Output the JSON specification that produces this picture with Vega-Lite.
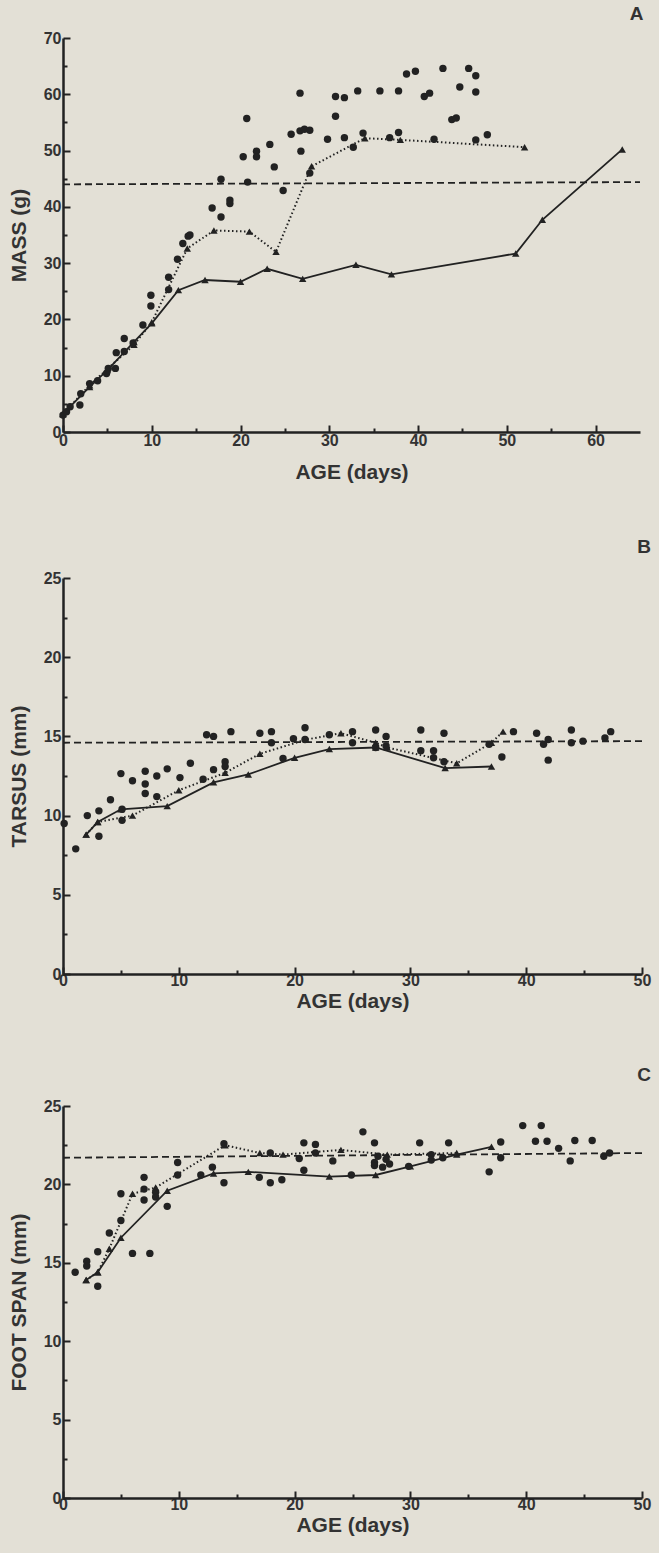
{
  "$schema": "https://vega.github.io/schema/vega-lite/v6.json",
  "background": "#e3e0d6",
  "padding": {"left": 8, "top": 5, "right": 8, "bottom": 18},
  "config": {
    "view": {"stroke": null},
    "axis": {"domainColor": "#222", "domainWidth": 2.5, "tickColor": "#222", "tickWidth": 2, "labelFont": "Liberation Sans", "labelFontWeight": "bold", "labelFontSize": 16, "labelColor": "#333", "labelFlush": false, "titleFont": "Liberation Sans", "titleFontWeight": "bold", "titleFontSize": 21, "titleColor": "#333", "grid": false},
    "title": {"font": "Liberation Sans", "fontWeight": "bold", "fontSize": 19, "color": "#333", "anchor": "end", "offset": 13}
  },
  "datasets": {
    "A": [
      {"series":"solid","age":0,"value":3.2},{"series":"solid","age":3,"value":8.0},{"series":"solid","age":5,"value":11},{"series":"solid","age":8,"value":16},{"series":"solid","age":10,"value":19.3},{"series":"solid","age":13,"value":25.2},{"series":"solid","age":16,"value":27.0},{"series":"solid","age":20,"value":26.7},{"series":"solid","age":23,"value":29.0},{"series":"solid","age":27,"value":27.2},{"series":"solid","age":33,"value":29.7},{"series":"solid","age":37,"value":28.0},{"series":"solid","age":51,"value":31.7},{"series":"solid","age":54,"value":37.7},{"series":"solid","age":63,"value":50.2},
      {"series":"dotted","age":0,"value":3.2},{"series":"dotted","age":3,"value":8.3},{"series":"dotted","age":5,"value":11.2},{"series":"dotted","age":8,"value":15.5},{"series":"dotted","age":10,"value":19.5},{"series":"dotted","age":14,"value":32.6},{"series":"dotted","age":17,"value":35.8},{"series":"dotted","age":21,"value":35.6},{"series":"dotted","age":24,"value":32.0},{"series":"dotted","age":28,"value":47.2},{"series":"dotted","age":34,"value":52.2},{"series":"dotted","age":38,"value":51.9},{"series":"dotted","age":52,"value":50.6},
      {"series":"mean","age":0,"value":44.0},{"series":"mean","age":65,"value":44.4},
      {"series":"obs","age":0,"value":3.0},{"series":"obs","age":0.4,"value":3.6},{"series":"obs","age":0.8,"value":4.5},{"series":"obs","age":1.9,"value":4.8},{"series":"obs","age":2.0,"value":6.8},{"series":"obs","age":3.0,"value":8.6},{"series":"obs","age":3.9,"value":9.1},{"series":"obs","age":4.9,"value":10.4},{"series":"obs","age":5.1,"value":11.3},{"series":"obs","age":5.9,"value":11.3},{"series":"obs","age":6.0,"value":14.1},{"series":"obs","age":6.9,"value":14.3},{"series":"obs","age":6.9,"value":16.6},{"series":"obs","age":7.9,"value":15.8},{"series":"obs","age":9.0,"value":19.0},{"series":"obs","age":9.9,"value":22.4},{"series":"obs","age":9.9,"value":24.3},{"series":"obs","age":11.9,"value":25.3},{"series":"obs","age":11.9,"value":27.5},{"series":"obs","age":12.9,"value":30.7},{"series":"obs","age":13.5,"value":33.5},{"series":"obs","age":14.1,"value":34.8},{"series":"obs","age":14.3,"value":35.0},{"series":"obs","age":16.8,"value":39.8},{"series":"obs","age":17.8,"value":38.2},{"series":"obs","age":18.8,"value":41.2},{"series":"obs","age":18.8,"value":40.6},{"series":"obs","age":17.8,"value":44.9},{"series":"obs","age":20.8,"value":44.4},{"series":"obs","age":20.3,"value":48.9},{"series":"obs","age":20.7,"value":55.7},{"series":"obs","age":21.8,"value":49.9},{"series":"obs","age":21.8,"value":48.9},{"series":"obs","age":23.3,"value":51.1},{"series":"obs","age":23.8,"value":47.1},{"series":"obs","age":24.8,"value":42.9},{"series":"obs","age":25.7,"value":52.9},{"series":"obs","age":26.7,"value":53.5},{"series":"obs","age":27.2,"value":53.8},{"series":"obs","age":27.8,"value":53.6},{"series":"obs","age":26.8,"value":49.9},{"series":"obs","age":26.7,"value":60.2},{"series":"obs","age":27.8,"value":46.0},{"series":"obs","age":29.8,"value":52.0},{"series":"obs","age":30.7,"value":56.1},{"series":"obs","age":30.7,"value":59.6},{"series":"obs","age":31.7,"value":59.4},{"series":"obs","age":31.7,"value":52.3},{"series":"obs","age":32.7,"value":50.6},{"series":"obs","age":33.2,"value":60.6},{"series":"obs","age":33.8,"value":53.1},{"series":"obs","age":35.7,"value":60.6},{"series":"obs","age":36.8,"value":52.3},{"series":"obs","age":37.8,"value":60.6},{"series":"obs","age":37.8,"value":53.2},{"series":"obs","age":38.7,"value":63.6},{"series":"obs","age":39.7,"value":64.1},{"series":"obs","age":40.7,"value":59.6},{"series":"obs","age":41.3,"value":60.2},{"series":"obs","age":41.8,"value":52.0},{"series":"obs","age":42.8,"value":64.6},{"series":"obs","age":43.8,"value":55.5},{"series":"obs","age":44.3,"value":55.8},{"series":"obs","age":44.7,"value":61.3},{"series":"obs","age":45.7,"value":64.6},{"series":"obs","age":46.5,"value":60.4},{"series":"obs","age":46.5,"value":63.3},{"series":"obs","age":46.5,"value":51.9},{"series":"obs","age":47.8,"value":52.8}
    ],
    "B": [
      {"series":"solid","age":2,"value":8.8},{"series":"solid","age":3,"value":9.6},{"series":"solid","age":5,"value":10.4},{"series":"solid","age":9,"value":10.6},{"series":"solid","age":13,"value":12.1},{"series":"solid","age":16,"value":12.6},{"series":"solid","age":20,"value":13.65},{"series":"solid","age":23,"value":14.2},{"series":"solid","age":27,"value":14.3},{"series":"solid","age":33,"value":13.0},{"series":"solid","age":37,"value":13.1},
      {"series":"dotted","age":2,"value":8.8},{"series":"dotted","age":3,"value":9.6},{"series":"dotted","age":6,"value":10.0},{"series":"dotted","age":10,"value":11.6},{"series":"dotted","age":14,"value":12.7},{"series":"dotted","age":17,"value":13.9},{"series":"dotted","age":21,"value":14.8},{"series":"dotted","age":24,"value":15.2},{"series":"dotted","age":27,"value":14.6},{"series":"dotted","age":28,"value":14.3},{"series":"dotted","age":34,"value":13.3},{"series":"dotted","age":37,"value":14.6},{"series":"dotted","age":38,"value":15.3},
      {"series":"mean","age":0,"value":14.6},{"series":"mean","age":50,"value":14.7},
      {"series":"obs","age":0.1,"value":9.5},{"series":"obs","age":1.1,"value":7.9},{"series":"obs","age":2.1,"value":10.0},{"series":"obs","age":3.1,"value":10.3},{"series":"obs","age":3.1,"value":8.7},{"series":"obs","age":4.1,"value":11.0},{"series":"obs","age":5.0,"value":12.65},{"series":"obs","age":5.1,"value":10.4},{"series":"obs","age":5.1,"value":9.7},{"series":"obs","age":6.0,"value":12.2},{"series":"obs","age":7.1,"value":12.8},{"series":"obs","age":7.1,"value":12.0},{"series":"obs","age":7.1,"value":11.4},{"series":"obs","age":8.1,"value":12.5},{"series":"obs","age":8.1,"value":11.2},{"series":"obs","age":9.0,"value":12.95},{"series":"obs","age":10.1,"value":12.4},{"series":"obs","age":11.0,"value":13.3},{"series":"obs","age":12.1,"value":12.3},{"series":"obs","age":13.0,"value":12.9},{"series":"obs","age":12.4,"value":15.1},{"series":"obs","age":13.0,"value":15.0},{"series":"obs","age":14.0,"value":13.4},{"series":"obs","age":14.0,"value":13.1},{"series":"obs","age":14.5,"value":15.3},{"series":"obs","age":17.0,"value":15.2},{"series":"obs","age":18.0,"value":15.3},{"series":"obs","age":18.0,"value":14.6},{"series":"obs","age":19.0,"value":13.6},{"series":"obs","age":19.9,"value":14.85},{"series":"obs","age":20.9,"value":15.55},{"series":"obs","age":20.9,"value":14.8},{"series":"obs","age":23.0,"value":15.1},{"series":"obs","age":25.0,"value":15.3},{"series":"obs","age":25.0,"value":14.6},{"series":"obs","age":27.0,"value":15.4},{"series":"obs","age":27.0,"value":14.3},{"series":"obs","age":27.9,"value":15.0},{"series":"obs","age":27.9,"value":14.4},{"series":"obs","age":30.9,"value":15.4},{"series":"obs","age":30.9,"value":14.1},{"series":"obs","age":32.0,"value":14.1},{"series":"obs","age":32.0,"value":13.65},{"series":"obs","age":32.9,"value":15.2},{"series":"obs","age":32.9,"value":13.4},{"series":"obs","age":36.8,"value":14.5},{"series":"obs","age":37.9,"value":13.7},{"series":"obs","age":38.9,"value":15.3},{"series":"obs","age":40.9,"value":15.2},{"series":"obs","age":41.5,"value":14.5},{"series":"obs","age":41.9,"value":14.8},{"series":"obs","age":41.9,"value":13.5},{"series":"obs","age":43.9,"value":15.4},{"series":"obs","age":43.9,"value":14.6},{"series":"obs","age":44.9,"value":14.7},{"series":"obs","age":46.8,"value":14.9},{"series":"obs","age":47.3,"value":15.3}
    ],
    "C": [
      {"series":"solid","age":2,"value":13.9},{"series":"solid","age":3,"value":14.4},{"series":"solid","age":5,"value":16.6},{"series":"solid","age":9,"value":19.6},{"series":"solid","age":13,"value":20.7},{"series":"solid","age":16,"value":20.8},{"series":"solid","age":23,"value":20.5},{"series":"solid","age":27,"value":20.6},{"series":"solid","age":30,"value":21.15},{"series":"solid","age":34,"value":21.9},{"series":"solid","age":37,"value":22.4},
      {"series":"dotted","age":2,"value":13.9},{"series":"dotted","age":3,"value":14.4},{"series":"dotted","age":4,"value":15.9},{"series":"dotted","age":6,"value":19.4},{"series":"dotted","age":8,"value":19.8},{"series":"dotted","age":14,"value":22.5},{"series":"dotted","age":17,"value":22.0},{"series":"dotted","age":19,"value":21.9},{"series":"dotted","age":24,"value":22.2},{"series":"dotted","age":28,"value":21.9},{"series":"dotted","age":34,"value":22.0},
      {"series":"mean","age":0,"value":21.7},{"series":"mean","age":50,"value":22.0},
      {"series":"obs","age":1.05,"value":14.4},{"series":"obs","age":2.05,"value":15.1},{"series":"obs","age":2.05,"value":14.8},{"series":"obs","age":3.0,"value":13.5},{"series":"obs","age":3.0,"value":15.7},{"series":"obs","age":4.0,"value":16.9},{"series":"obs","age":5.0,"value":17.7},{"series":"obs","age":5.0,"value":19.4},{"series":"obs","age":6.0,"value":15.6},{"series":"obs","age":7.0,"value":20.45},{"series":"obs","age":7.0,"value":19.7},{"series":"obs","age":7.0,"value":19.0},{"series":"obs","age":7.5,"value":15.6},{"series":"obs","age":8.0,"value":19.5},{"series":"obs","age":8.0,"value":19.2},{"series":"obs","age":9.0,"value":18.6},{"series":"obs","age":9.9,"value":21.4},{"series":"obs","age":9.9,"value":20.6},{"series":"obs","age":11.9,"value":20.6},{"series":"obs","age":12.9,"value":21.1},{"series":"obs","age":13.9,"value":20.1},{"series":"obs","age":13.9,"value":22.6},{"series":"obs","age":16.95,"value":20.45},{"series":"obs","age":17.9,"value":22.0},{"series":"obs","age":17.9,"value":20.1},{"series":"obs","age":18.9,"value":20.3},{"series":"obs","age":20.4,"value":21.65},{"series":"obs","age":20.8,"value":22.65},{"series":"obs","age":20.8,"value":20.9},{"series":"obs","age":21.8,"value":22.55},{"series":"obs","age":21.8,"value":22.0},{"series":"obs","age":23.3,"value":21.5},{"series":"obs","age":24.9,"value":20.6},{"series":"obs","age":25.9,"value":23.35},{"series":"obs","age":26.9,"value":22.65},{"series":"obs","age":26.9,"value":21.4},{"series":"obs","age":26.9,"value":21.2},{"series":"obs","age":27.2,"value":21.8},{"series":"obs","age":27.6,"value":21.1},{"series":"obs","age":27.9,"value":21.6},{"series":"obs","age":28.2,"value":21.3},{"series":"obs","age":29.85,"value":21.15},{"series":"obs","age":30.8,"value":22.65},{"series":"obs","age":31.8,"value":21.9},{"series":"obs","age":31.8,"value":21.55},{"series":"obs","age":32.8,"value":21.7},{"series":"obs","age":33.3,"value":22.65},{"series":"obs","age":36.8,"value":20.8},{"series":"obs","age":37.8,"value":22.7},{"series":"obs","age":37.8,"value":21.7},{"series":"obs","age":39.7,"value":23.75},{"series":"obs","age":41.3,"value":23.75},{"series":"obs","age":40.8,"value":22.75},{"series":"obs","age":41.8,"value":22.75},{"series":"obs","age":42.8,"value":22.3},{"series":"obs","age":43.8,"value":21.5},{"series":"obs","age":44.2,"value":22.8},{"series":"obs","age":45.7,"value":22.8},{"series":"obs","age":46.7,"value":21.8},{"series":"obs","age":47.2,"value":22.0}
    ]
  },
  "vconcat": [
    {
      "data": {"name": "A"},
      "width": 577, "height": 394,
      "title": {"text": "A", "offset": 6},
      "layer": [
        {
          "encoding": {
            "x": {"field": "age", "type": "quantitative", "scale": {"domain": [0, 65], "nice": false}, "axis": {"orient": "bottom", "values": [0, 10, 20, 30, 40, 50, 60], "tickSize": -7, "labelPadding": 7, "title": "AGE (days)", "titlePadding": 13}},
            "y": {"field": "value", "type": "quantitative", "scale": {"domain": [0, 70], "nice": false}, "axis": {"orient": "left", "values": [0, 10, 20, 30, 40, 50, 60, 70], "tickSize": -7, "labelPadding": 9, "title": "MASS (g)", "titlePadding": 14}}
          },
          "layer": [
            {"transform": [{"filter": "datum.series === 'solid'"}], "mark": {"type": "line", "color": "#222", "strokeWidth": 1.8}},
            {"transform": [{"filter": "datum.series === 'dotted'"}], "mark": {"type": "line", "color": "#222", "strokeWidth": 2, "strokeDash": [1.5, 2.5]}},
            {"transform": [{"filter": "datum.series === 'solid' || datum.series === 'dotted'"}], "mark": {"type": "point", "shape": "triangle-up", "filled": true, "size": 55, "color": "#222", "opacity": 1}},
            {"transform": [{"filter": "datum.series === 'obs'"}], "mark": {"type": "circle", "size": 55, "color": "#222", "opacity": 1}}
          ]
        },
        {
          "transform": [{"filter": "datum.series === 'mean'"}],
          "mark": {"type": "line", "color": "#222", "strokeWidth": 1.8, "strokeDash": [7, 4]},
          "encoding": {
            "x": {"field": "age", "type": "quantitative", "scale": {"domain": [0, 65], "nice": false}, "axis": {"orient": "bottom", "values": [5, 15, 25, 35, 45, 55], "tickSize": -4, "labels": false, "domain": false, "title": null}},
            "y": {"field": "value", "type": "quantitative", "scale": {"domain": [0, 70], "nice": false}, "axis": {"orient": "left", "values": [5, 15, 25, 35, 45, 55, 65], "tickSize": -4, "labels": false, "domain": false, "title": null}}
          }
        }
      ],
      "resolve": {"axis": {"x": "independent", "y": "independent"}}
    },
    {
      "vconcat": [
        {
          "data": {"name": "B"},
          "width": 579, "height": 396,
          "title": {"text": "B"},
          "layer": [
            {
              "encoding": {
                "x": {"field": "age", "type": "quantitative", "scale": {"domain": [0, 50], "nice": false}, "axis": {"orient": "bottom", "values": [0, 10, 20, 30, 40, 50], "tickSize": -7, "labelPadding": 5, "title": "AGE (days)", "titlePadding": 2}},
                "y": {"field": "value", "type": "quantitative", "scale": {"domain": [0, 25], "nice": false}, "axis": {"orient": "left", "values": [0, 5, 10, 15, 20, 25], "tickSize": -7, "labelPadding": 9, "title": "TARSUS (mm)", "titlePadding": 14}}
              },
              "layer": [
                {"transform": [{"filter": "datum.series === 'solid'"}], "mark": {"type": "line", "color": "#222", "strokeWidth": 1.8}},
                {"transform": [{"filter": "datum.series === 'dotted'"}], "mark": {"type": "line", "color": "#222", "strokeWidth": 2, "strokeDash": [1.5, 2.5]}},
                {"transform": [{"filter": "datum.series === 'solid' || datum.series === 'dotted'"}], "mark": {"type": "point", "shape": "triangle-up", "filled": true, "size": 55, "color": "#222", "opacity": 1}},
                {"transform": [{"filter": "datum.series === 'obs'"}], "mark": {"type": "circle", "size": 55, "color": "#222", "opacity": 1}}
              ]
            },
            {
              "transform": [{"filter": "datum.series === 'mean'"}],
              "mark": {"type": "line", "color": "#222", "strokeWidth": 1.8, "strokeDash": [7, 4]},
              "encoding": {
                "x": {"field": "age", "type": "quantitative", "scale": {"domain": [0, 50], "nice": false}, "axis": {"orient": "bottom", "values": [5, 15, 25, 35, 45], "tickSize": -4, "labels": false, "domain": false, "title": null}},
                "y": {"field": "value", "type": "quantitative", "scale": {"domain": [0, 25], "nice": false}, "axis": {"orient": "left", "values": [2.5, 7.5, 12.5, 17.5, 22.5], "tickSize": -4, "labels": false, "domain": false, "title": null}}
              }
            }
          ],
          "resolve": {"axis": {"x": "independent", "y": "independent"}}
        },
        {
          "data": {"name": "C"},
          "width": 579, "height": 392,
          "title": {"text": "C"},
          "layer": [
            {
              "encoding": {
                "x": {"field": "age", "type": "quantitative", "scale": {"domain": [0, 50], "nice": false}, "axis": {"orient": "bottom", "values": [0, 10, 20, 30, 40, 50], "tickSize": -7, "labelPadding": 5, "title": "AGE (days)", "titlePadding": 2}},
                "y": {"field": "value", "type": "quantitative", "scale": {"domain": [0, 25], "nice": false}, "axis": {"orient": "left", "values": [0, 5, 10, 15, 20, 25], "tickSize": -7, "labelPadding": 9, "title": "FOOT SPAN (mm)", "titlePadding": 14}}
              },
              "layer": [
                {"transform": [{"filter": "datum.series === 'solid'"}], "mark": {"type": "line", "color": "#222", "strokeWidth": 1.8}},
                {"transform": [{"filter": "datum.series === 'dotted'"}], "mark": {"type": "line", "color": "#222", "strokeWidth": 2, "strokeDash": [1.5, 2.5]}},
                {"transform": [{"filter": "datum.series === 'solid' || datum.series === 'dotted'"}], "mark": {"type": "point", "shape": "triangle-up", "filled": true, "size": 55, "color": "#222", "opacity": 1}},
                {"transform": [{"filter": "datum.series === 'obs'"}], "mark": {"type": "circle", "size": 55, "color": "#222", "opacity": 1}}
              ]
            },
            {
              "transform": [{"filter": "datum.series === 'mean'"}],
              "mark": {"type": "line", "color": "#222", "strokeWidth": 1.8, "strokeDash": [7, 4]},
              "encoding": {
                "x": {"field": "age", "type": "quantitative", "scale": {"domain": [0, 50], "nice": false}, "axis": {"orient": "bottom", "values": [5, 15, 25, 35, 45], "tickSize": -4, "labels": false, "domain": false, "title": null}},
                "y": {"field": "value", "type": "quantitative", "scale": {"domain": [0, 25], "nice": false}, "axis": {"orient": "left", "values": [2.5, 7.5, 12.5, 17.5, 22.5], "tickSize": -4, "labels": false, "domain": false, "title": null}}
              }
            }
          ],
          "resolve": {"axis": {"x": "independent", "y": "independent"}}
        }
      ],
      "spacing": 55
    }
  ],
  "spacing": 56
}
